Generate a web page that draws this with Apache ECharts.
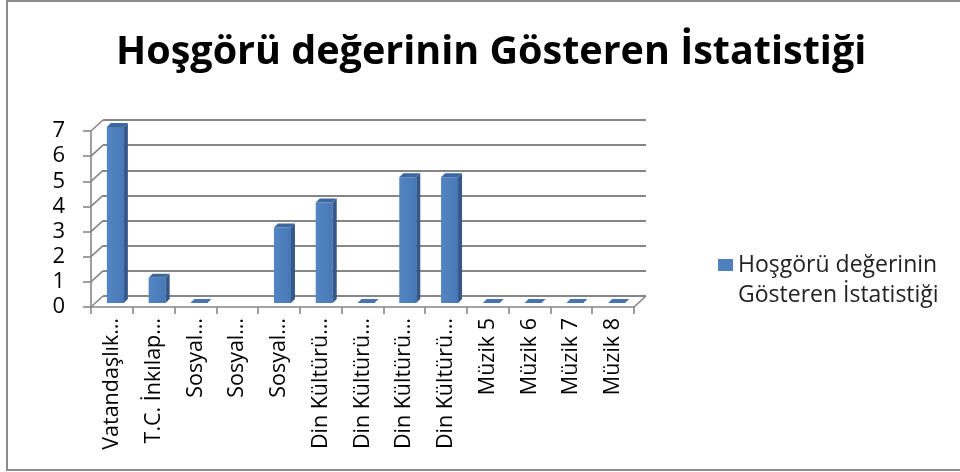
<!DOCTYPE html>
<html>
<head>
<meta charset="utf-8">
<script src="https://cdn.jsdelivr.net/npm/echarts@6/dist/echarts.min.js"></script>
<style>
  html, body { margin: 0; padding: 0; background: #ffffff; }
  #chart { width: 960px; height: 472px; }
</style>
</head>
<body>
<div id="chart"></div>
<script>
// Chart text and data
const chartTitle = 'Hoşgörü değerinin Gösteren İstatistiği';
const seriesName = 'Hoşgörü değerinin Gösteren İstatistiği';
const legendLines = ['Hoşgörü değerinin', 'Gösteren İstatistiği'];
const categories = [
  'Vatandaşlık…', 'T.C. İnkılap…', 'Sosyal…', 'Sosyal…', 'Sosyal…',
  'Din Kültürü…', 'Din Kültürü…', 'Din Kültürü…', 'Din Kültürü…',
  'Müzik 5', 'Müzik 6', 'Müzik 7', 'Müzik 8'
];
const values = [7, 1, 0, null, 3, 4, 0, 5, 5, 0, 0, 0, 0];
const yTicks = [0, 1, 2, 3, 4, 5, 6, 7];

// 3D look: offset of the back wall from the front plane
const WALL_DX = 12, WALL_DY = -11;
const GRID_COLOR = '#868686';
const FONT = '"Open Sans", "Noto Sans", sans-serif';

const chart = echarts.init(document.getElementById('chart'), null, { renderer: 'canvas' });

// Column drawn as front face, right side face and top face
function renderColumn(params, api) {
  const i = api.value(0);
  const v = api.value(1);
  if (v == null || isNaN(v)) return null;
  const base = api.coord([i, 0]);
  const top = api.coord([i, v]);
  const hw = 8.5, ox = 3.5, oy = -4, dx = 4, dy = -4;
  const cx = base[0] + ox;
  const yb = base[1] + oy;
  const yt = top[1] + oy;
  const children = [];
  if (v > 0) {
    children.push({
      type: 'rect',
      shape: { x: cx - hw, y: yt, width: hw * 2, height: yb - yt },
      style: {
        fill: new echarts.graphic.LinearGradient(0, 0, 1, 0, [
          { offset: 0, color: '#5385c3' },
          { offset: 0.8, color: '#4b7cba' },
          { offset: 1, color: '#4574b0' }
        ])
      }
    });
    children.push({
      type: 'polygon',
      shape: { points: [[cx + hw, yt], [cx + hw + dx, yt + dy], [cx + hw + dx, yb + dy], [cx + hw, yb]] },
      style: { fill: '#35588a' }
    });
  }
  children.push({
    type: 'polygon',
    shape: { points: [[cx - hw, yt], [cx + hw, yt], [cx + hw + dx, yt + dy], [cx - hw + dx, yt + dy]] },
    style: { fill: v > 0 ? '#3e67a0' : '#4674b2' }
  });
  return { type: 'group', children };
}

// Side wall gridlines and right floor edge
function renderFrame(params, api) {
  const v = api.value(1);
  const band = api.size([1, 0])[0];
  const p = api.coord([0, v]);
  const left = p[0] - band / 2;
  const children = [{
    type: 'line',
    shape: { x1: left, y1: p[1], x2: left + WALL_DX, y2: p[1] + WALL_DY },
    style: { stroke: GRID_COLOR, lineWidth: 1.6 }
  }];
  if (v === 0) {
    const r = api.coord([categories.length - 1, 0])[0] + band / 2;
    children.push({
      type: 'line',
      shape: { x1: r, y1: p[1], x2: r + WALL_DX, y2: p[1] + WALL_DY },
      style: { stroke: GRID_COLOR, lineWidth: 1.6 }
    });
  }
  return { type: 'group', children };
}

const option = {
  backgroundColor: '#ffffff',
  animation: false,
  title: {
    text: chartTitle,
    left: 116,
    top: 28,
    padding: [5, 0, 5, 0],
    textStyle: { fontFamily: FONT, fontSize: 39.5, fontWeight: 'bold', color: '#000000' }
  },
  legend: {
    show: true,
    left: 718,
    top: 220,
    padding: 0,
    icon: 'rect',
    itemWidth: 15,
    itemHeight: 12,
    itemGap: 0,
    data: [seriesName],
    // leading blank line keeps the first text line level with the swatch
    formatter: () => [' '].concat(legendLines).join('\n'),
    textStyle: {
      fontFamily: FONT, fontSize: 23, color: '#222222', lineHeight: 30
    }
  },
  graphic: [{
    type: 'rect',
    shape: { x: 7, y: 1, width: 970, height: 469 },
    style: { fill: 'none', stroke: '#8c8c8c', lineWidth: 2 },
    silent: true,
    z: -1
  }],
  grid: [
    { left: 91, top: 131, width: 543, height: 176, containLabel: false },
    { left: 91 + WALL_DX, top: 131 + WALL_DY, width: 543, height: 176, containLabel: false }
  ],
  xAxis: [{
    gridIndex: 0,
    type: 'category',
    data: categories,
    boundaryGap: true,
    axisLine: { show: true, lineStyle: { color: GRID_COLOR, width: 1.6 } },
    axisTick: { show: true, length: 7, alignWithLabel: false, lineStyle: { color: GRID_COLOR, width: 1.6 } },
    axisLabel: {
      show: true, interval: 0, rotate: 90, margin: 11,
      fontFamily: FONT, fontSize: 21.5, color: '#000000'
    },
    splitLine: { show: false }
  }, {
    gridIndex: 1,
    type: 'category',
    data: categories,
    show: false
  }],
  yAxis: [{
    gridIndex: 0,
    type: 'value',
    min: 0, max: 7, interval: 1,
    axisLine: { show: true, lineStyle: { color: GRID_COLOR, width: 1.6 } },
    axisTick: { show: true, length: 8, lineStyle: { color: GRID_COLOR, width: 1.6 } },
    axisLabel: {
      show: true, margin: 26,
      fontFamily: FONT, fontSize: 22, color: '#000000',
      formatter: (val) => yTicks.includes(val) ? String(val) : ''
    },
    splitLine: { show: false }
  }, {
    gridIndex: 1,
    type: 'value',
    min: 0, max: 7, interval: 1,
    axisLine: { show: false },
    axisTick: { show: false },
    axisLabel: { show: false },
    splitLine: { show: true, lineStyle: { color: GRID_COLOR, width: 1.8 } }
  }],
  series: [{
    type: 'custom',
    name: 'frame',
    xAxisIndex: 0,
    yAxisIndex: 0,
    renderItem: renderFrame,
    data: yTicks.map(v => [0, v]),
    silent: true,
    z: 1
  }, {
    type: 'custom',
    name: seriesName,
    xAxisIndex: 0,
    yAxisIndex: 0,
    renderItem: renderColumn,
    itemStyle: { color: '#4f81bd' },
    encode: { x: 0, y: 1 },
    data: values.map((v, i) => [i, v]),
    z: 3
  }]
};

chart.setOption(option);
</script>
</body>
</html>
